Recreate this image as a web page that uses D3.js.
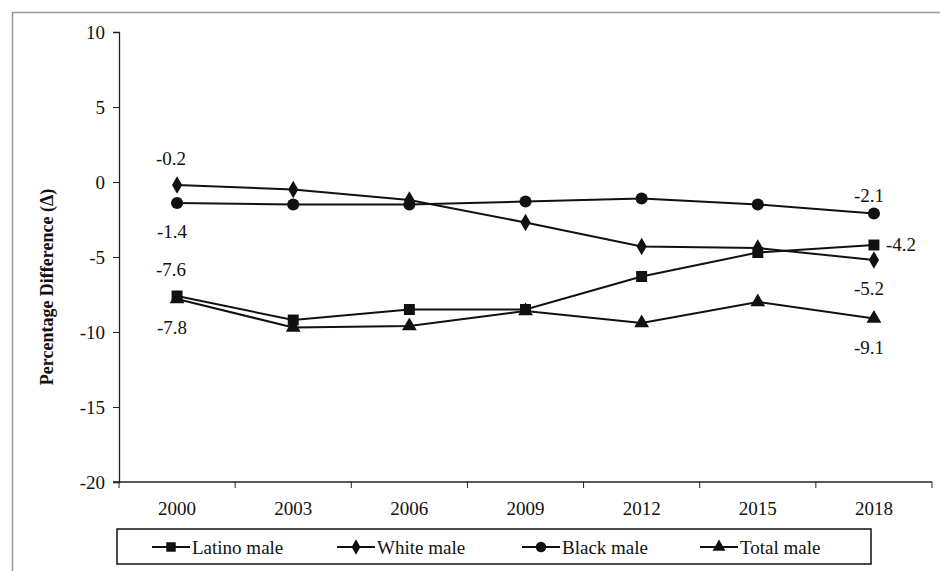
<!DOCTYPE html>
<html>
<head>
<meta charset="utf-8">
<script src="https://cdn.jsdelivr.net/npm/d3@7"></script>
<style>
  body { margin: 0; }
  svg text { font-family: "Liberation Serif" !important; }
</style>
</head>
<body>
<div id="plot"></div>
<script>
// ############ DATA ###############

const years = ["2000", "2003", "2006", "2009", "2012", "2015", "2018"];
const yTicks = [10, 5, 0, -5, -10, -15, -20];

const latino = [-7.6, -9.2, -8.5, -8.5, -6.3, -4.7, -4.2];
const white  = [-0.2, -0.5, -1.2, -2.7, -4.3, -4.4, -5.2];
const black  = [-1.4, -1.5, -1.5, -1.3, -1.1, -1.5, -2.1];
const total  = [-7.8, -9.7, -9.6, -8.6, -9.4, -8.0, -9.1];

const seriesNames = ["Latino male", "White male", "Black male", "Total male"];
const seriesSymbols = ["square", "diamond", "circle", "triangle"];

// value labels: series index, year index, placement
const valueLabels = [
  {s: 1, i: 0, pos: "above"},
  {s: 2, i: 0, pos: "below"},
  {s: 0, i: 0, pos: "above"},
  {s: 3, i: 0, pos: "below"},
  {s: 2, i: 6, pos: "above2"},
  {s: 0, i: 6, pos: "right"},
  {s: 1, i: 6, pos: "below"},
  {s: 3, i: 6, pos: "below"}
];

// ############ SETUP ###############

const FONT = '"Liberation Serif"';
const w = 940, h = 571;
const margin = {left: 119, top: 32};
const innerWidth = 932 - margin.left;
const innerHeight = 482 - margin.top;

const series = [latino, white, black, total];

const svg = d3.select("div#plot")
  .append("svg")
  .attr("width", w)
  .attr("height", h)
  .attr("font-family", "Liberation Serif")
  .style("display", "block");

// outer frame (only top/left visible in the crop)
svg.append("rect")
  .attr("x", 12.5).attr("y", 12.5)
  .attr("width", w).attr("height", h)
  .attr("fill", "none")
  .attr("stroke", "#999")
  .attr("stroke-width", 1.5);

const xScale = d3.scaleBand()
  .domain(years)
  .range([0, innerWidth]);

const yScale = d3.scaleLinear()
  .domain([-20, 10])
  .range([innerHeight, 0]);

const plot = svg.append("g")
  .attr("id", "plotarea")
  .attr("transform", `translate(${margin.left}, ${margin.top})`);

// x axis: ticks between categories
const xAxis = plot.append("g")
  .attr("id", "xaxis")
  .attr("transform", `translate(0, ${innerHeight})`);

xAxis.append("line")
  .attr("x1", -6).attr("x2", innerWidth)
  .attr("stroke", "#222").attr("stroke-width", 1.3);

xAxis.selectAll("line.tick")
  .data(years.concat(["end"]))
  .enter()
  .append("line")
    .attr("class", "tick")
    .attr("x1", (d, i) => i * xScale.bandwidth())
    .attr("x2", (d, i) => i * xScale.bandwidth())
    .attr("y1", 0).attr("y2", 6)
    .attr("stroke", "#222").attr("stroke-width", 1);

xAxis.selectAll("text")
  .data(years)
  .enter()
  .append("text")
    .attr("x", d => xScale(d) + xScale.bandwidth() / 2)
    .attr("y", 33)
    .attr("text-anchor", "middle")
    .style("font-family", FONT)
    .attr("font-size", 19)
    .attr("fill", "#111")
    .text(d => d);

// y axis
const yAxis = d3.axisLeft(yScale)
  .tickValues(yTicks)
  .tickFormat(d => String(d))
  .tickSize(6)
  .tickPadding(6);

plot.append("g")
  .attr("id", "yaxis")
  .call(yAxis)
  .attr("font-family", "Liberation Serif")
  .call(g => g.select(".domain").attr("stroke", "#222").attr("stroke-width", 1.3))
  .call(g => g.selectAll(".tick line").attr("stroke", "#222"))
  .call(g => g.selectAll(".tick text")
    .style("font-family", FONT)
    .attr("font-size", 19)
    .attr("fill", "#111")
    .attr("dx", -2));

// y-axis label
svg.append("text")
  .attr("transform", `translate(53, ${margin.top + innerHeight / 2 + 30}) rotate(-90)`)
  .attr("text-anchor", "middle")
  .style("font-family", FONT)
  .attr("font-size", 18)
  .attr("font-weight", "bold")
  .attr("fill", "#111")
  .text("Percentage Difference (Δ)");

// ############ LINES & MARKERS ###############

const symbolType = {
  square: d3.symbolSquare,
  diamond: d3.symbolDiamond,
  circle: d3.symbolCircle,
  triangle: d3.symbolTriangle
};
const symbolSize = {square: 120, diamond: 90, circle: 115, triangle: 95};

const line = d3.line()
  .x((d, i) => xScale(years[i]) + xScale.bandwidth() / 2)
  .y(d => yScale(d));

series.forEach((vals, s) => {
  const g = plot.append("g").attr("class", "series");
  g.append("path")
    .datum(vals)
    .attr("d", line)
    .attr("fill", "none")
    .attr("stroke", "#111")
    .attr("stroke-width", 2);
  g.selectAll("path.marker")
    .data(vals)
    .enter()
    .append("path")
      .attr("class", "marker")
      .attr("d", d3.symbol().type(symbolType[seriesSymbols[s]]).size(symbolSize[seriesSymbols[s]]))
      .attr("transform", (d, i) => `translate(${xScale(years[i]) + xScale.bandwidth() / 2}, ${yScale(d)})`)
      .attr("fill", "#111");
});

// value labels
const labelOffset = {
  above: {dx: -6, dy: -20, anchor: "middle"},
  above2: {dx: -5, dy: -12, anchor: "middle"},
  below: {dx: -5, dy: 35, anchor: "middle"},
  right: {dx: 12, dy: 6, anchor: "start"}
};

plot.selectAll("text.vlabel")
  .data(valueLabels)
  .enter()
  .append("text")
    .attr("class", "vlabel")
    .attr("x", d => xScale(years[d.i]) + xScale.bandwidth() / 2 + labelOffset[d.pos].dx)
    .attr("y", d => yScale(series[d.s][d.i]) + labelOffset[d.pos].dy)
    .attr("text-anchor", d => labelOffset[d.pos].anchor)
    .style("font-family", FONT)
    .attr("font-size", 19)
    .attr("fill", "#111")
    .text(d => series[d.s][d.i].toFixed(1));

// ############ LEGEND ###############

const legend = svg.append("g").attr("id", "legend");

legend.append("rect")
  .attr("x", 117).attr("y", 529)
  .attr("width", 754).attr("height", 35)
  .attr("fill", "#fff")
  .attr("stroke", "#111")
  .attr("stroke-width", 1.5);

const legendX = [152, 337, 522, 700];

seriesNames.forEach((name, s) => {
  const x0 = legendX[s];
  const item = legend.append("g").attr("transform", `translate(${x0}, 547)`);
  item.append("line")
    .attr("x1", 0).attr("x2", 38)
    .attr("stroke", "#111").attr("stroke-width", 2);
  item.append("path")
    .attr("d", d3.symbol().type(symbolType[seriesSymbols[s]]).size(symbolSize[seriesSymbols[s]] * 0.75))
    .attr("transform", "translate(19, 0)")
    .attr("fill", "#111");
  item.append("text")
    .attr("x", 40)
    .attr("y", 7)
    .style("font-family", FONT)
    .attr("font-size", 19)
    .attr("fill", "#111")
    .text(name);
});
</script>
</body>
</html>
